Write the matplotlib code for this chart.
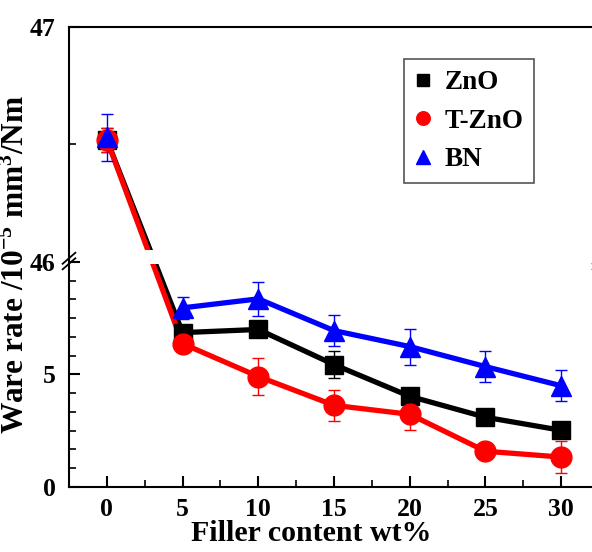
import numpy as np
import matplotlib
matplotlib.use("Agg")
import matplotlib.pyplot as plt
from matplotlib.ticker import FixedLocator

plt.rcParams['font.family'] = ['Liberation Serif', 'DejaVu Serif']
plt.rcParams['font.weight'] = 'bold'
plt.rcParams['mathtext.fontset'] = 'custom'
plt.rcParams['mathtext.rm'] = 'Liberation Serif:bold'
plt.rcParams['mathtext.bf'] = 'Liberation Serif:bold'
plt.rcParams['mathtext.it'] = 'Liberation Serif:bold:italic'

# ---- data ----
filler = [0, 5, 10, 15, 20, 25, 30]
zno = [46.52, 6.86, 7.0, 5.44, 4.03, 3.1, 2.52]
zno_err = [0.05, 0.3, 0.3, 0.6, 0.3, 0.3, 0.3]
tzno = [46.52, 6.37, 4.91, 3.63, 3.23, 1.59, 1.33]
tzno_err = [0.05, 0.3, 0.8, 0.7, 0.7, 0.3, 0.7]
bn = [46.53, 7.96, 8.36, 6.95, 6.24, 5.35, 4.5]
bn_err = [0.1, 0.5, 0.75, 0.7, 0.8, 0.7, 0.7]
series_names = ['ZnO', 'T-ZnO', 'BN']
x_ticks = [0, 5, 10, 15, 20, 25, 30]
y_ticks = [0, 5, 46, 47]

# ---- broken y scale ----
LOW_TOP, HIGH_BOT, K = 10.0, 46.0, 10.44

def fwd(v):
    v = np.asarray(v, dtype=float)
    return np.where(v <= LOW_TOP, v,
                    np.where(v >= HIGH_BOT, LOW_TOP + (v - HIGH_BOT) * K,
                             LOW_TOP + (v - LOW_TOP) * 1e-6))

def inv(u):
    u = np.asarray(u, dtype=float)
    return np.where(u <= LOW_TOP, u, HIGH_BOT + (u - LOW_TOP) / K)

fig = plt.figure(figsize=(5.92, 5.52), dpi=100)
ax = fig.add_axes([69/592, 1-487/552, 530/592, 460/552])
ax.set_yscale('function', functions=(fwd, inv))
ax.set_xlim(-2.5, 32.5)
ax.set_ylim(0, 47)

x = np.array(filler)
styles = [
    (zno, zno_err, 'black', 's', 13, 3),
    (tzno, tzno_err, 'red', 'o', 15, 4),
    (bn, bn_err, 'blue', '^', 15, 5),
]
for (vals, err, col, mk, ms, z), name in zip(styles, series_names):
    vals = np.array(vals)
    ax.errorbar(x, vals, yerr=err, fmt='none', ecolor=col, elinewidth=1.0,
                capsize=4, capthick=1.0, zorder=z)
    if name == 'BN':
        ax.plot(x[1:], vals[1:], '-', color=col, lw=3.8, zorder=z)
    else:
        ax.plot(x, vals, '-', color=col, lw=3.8, zorder=z)
    ax.plot(x, vals, linestyle='none', marker=mk, ms=ms, color=col,
            markeredgecolor=col, zorder=z + 3, label=name)

# gap in lines at the break
ax.axhspan(9.9, 46.05, xmin=0.12, xmax=0.22, color='white', zorder=7, lw=0)

# break marks
bt = LOW_TOP / float(fwd(47))
for xa in (0.0, 1.0):
    for dy in (-0.004, 0.008):
        ax.plot([xa - 0.012, xa + 0.012], [bt + dy - 0.012, bt + dy + 0.012],
                transform=ax.transAxes, color='black', lw=1.3, clip_on=False, zorder=10)

ax.set_xticks(x_ticks)
ax.xaxis.set_minor_locator(FixedLocator([-2.5 + 5 * k for k in range(8)]))
ax.yaxis.set_major_locator(FixedLocator(y_ticks))
ax.yaxis.set_minor_locator(FixedLocator([5/6 * k for k in range(1, 12) if k != 6] + [46.5]))
ax.set_yticklabels([str(t) for t in y_ticks])

ax.tick_params(axis='both', which='major', direction='in', length=8, width=1.5,
               labelsize=18.5, pad=8)
ax.tick_params(axis='y', which='major', pad=9.5)
ax.tick_params(axis='both', which='minor', direction='in', length=5, width=1.2)
ax.tick_params(right=False, top=False)
for s in ax.spines.values():
    s.set_linewidth(1.5)

ax.set_xlabel('Filler content wt%', fontsize=21.5, fontweight='bold')
ax.xaxis.set_label_coords(0.457, -0.072)
ax.set_ylabel('Ware rate /10$^{-5}$ mm$^{3}$/Nm', fontsize=22.5, fontweight='bold')
ax.yaxis.set_label_coords(-0.071, 0.483)

leg = ax.legend(loc='upper left', bbox_to_anchor=(0.632, 0.930), borderaxespad=0,
                fontsize=19.5, markerscale=0.65, handlelength=0.6, handletextpad=0.5,
                labelspacing=0.5, fancybox=False, framealpha=1, borderpad=0.4)
leg.get_frame().set_edgecolor('#555555')
leg.get_frame().set_linewidth(1.2)

fig.savefig('out.png', dpi=100)
